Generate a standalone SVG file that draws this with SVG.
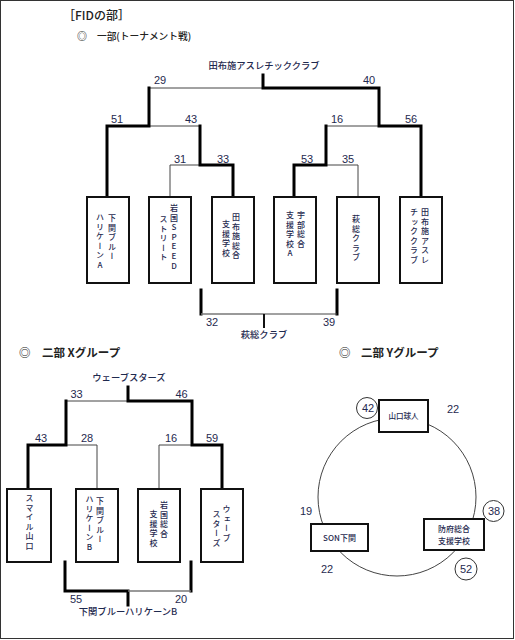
<svg xmlns="http://www.w3.org/2000/svg" width="515" height="640" viewBox="0 0 515 640">
<style>
.tk{stroke:#000;stroke-width:3;fill:none;stroke-linecap:square}
.tn{stroke:#444;stroke-width:1;fill:none}
.tg{stroke:#777;stroke-width:1.6;fill:none}
.box{fill:#fff;stroke:#111;stroke-width:2}
.num{font-family:"Liberation Sans",Arial,sans-serif;font-size:11px;fill:#1f2a4f;text-anchor:middle}
.jp{font-family:"Noto Sans CJK JP",sans-serif;font-weight:500;fill:#1f2a4f}
.lbl{font-family:"Noto Sans CJK JP",sans-serif;font-weight:500;font-size:9.3px;fill:#1f2a4f;text-anchor:middle}
.ttl{font-family:"Noto Sans CJK JP",sans-serif;font-weight:bold;fill:#222}
.ttm{font-family:"Noto Sans CJK JP",sans-serif;font-weight:500;fill:#222}
.v{font-family:"Noto Sans CJK JP",sans-serif;font-weight:500;font-size:8px;letter-spacing:1.6px;fill:#1f2a4f;writing-mode:vertical-rl;text-orientation:upright}
.sc{fill:#fff;stroke:#333;stroke-width:1}
</style>
<rect x="0.5" y="0.5" width="513" height="638" fill="#fff" stroke="#333" stroke-width="1"/>

<g id="titles">
<text class="ttm" x="63" y="20" font-size="12">［FIDの部］</text>
<text class="ttm" x="77" y="40" font-size="10">◎</text>
<text class="ttm" x="97" y="40" font-size="9.7">一部(トーナメント戦)</text>
<text class="ttl" x="19" y="357" font-size="11.5">◎</text>
<text class="ttl" x="42" y="357" font-size="11.5">二部  Xグループ</text>
<text class="ttl" x="339" y="357" font-size="11.5">◎</text>
<text class="ttl" x="361" y="357" font-size="11.5">二部  Yグループ</text>
</g>

<g id="connectors">
<!-- top tournament -->
<path class="tn" d="M149 88H263 M149 126H200 M326 126H379 M170 197V165H200 M326 165H358V197"/>
<path class="tk" d="M263 75V88H379V126H421V197 M149 88V126H107V197 M200 126V165H233V197 M326 126V165H294V197"/>
<path class="tk" d="M201 290V314 M337 290V314"/>
<path class="tg" d="M201 314H264"/>
<path class="tn" d="M264 314H337"/>
<path stroke="#111" stroke-width="2" d="M264 314V328"/>
<!-- X group -->
<path class="tn" d="M66 401H128 M66 445H97V489 M159 489V445H192"/>
<path class="tk" d="M128 387V401H192V445H222V489 M66 401V445H28V489"/>
<path class="tk" d="M65 562V591H128 M191 562V591 M128 591V605"/>
<path class="tg" d="M128 591H191"/>
<!-- Y group circle -->
<circle cx="397" cy="497" r="79" fill="none" stroke="#444" stroke-width="1"/>
</g>

<g id="top-labels">
<text class="lbl" x="264" y="69">田布施アスレチッククラブ</text>
<text class="num" x="160" y="84">29</text>
<text class="num" x="369" y="84">40</text>
<text class="num" x="117" y="123">51</text>
<text class="num" x="191" y="123">43</text>
<text class="num" x="337" y="123">16</text>
<text class="num" x="411" y="123">56</text>
<text class="num" x="180" y="163">31</text>
<text class="num" x="223" y="163">33</text>
<text class="num" x="307" y="163">53</text>
<text class="num" x="348" y="163">35</text>
<text class="num" x="212" y="326">32</text>
<text class="num" x="329" y="326">39</text>
<text class="lbl" x="264" y="338">萩総クラブ</text>
</g>

<g id="node-t1"><rect class="box" x="87" y="197" width="42" height="86"/>
<text class="v" x="112" y="214">下関ブルー</text><text class="v" x="100" y="213">ハリケーンA</text></g>
<g id="node-t2"><rect class="box" x="149" y="197" width="42" height="86"/>
<text class="v" x="174" y="204">岩国SPEED</text><text class="v" x="163.5" y="215">ストリート</text></g>
<g id="node-t3"><rect class="box" x="212" y="197" width="42" height="86"/>
<text class="v" x="236" y="213">田布施総合</text><text class="v" x="226" y="220">支援学校</text></g>
<g id="node-t4"><rect class="box" x="274" y="197" width="42" height="86"/>
<text class="v" x="301" y="211">宇部総合</text><text class="v" x="290" y="211">支援学校A</text></g>
<g id="node-t5"><rect class="box" x="337" y="197" width="42" height="86"/>
<text class="v" x="356" y="215">萩総クラブ</text></g>
<g id="node-t6"><rect class="box" x="400" y="197" width="42" height="86"/>
<text class="v" x="425" y="208">田布施アスレ</text><text class="v" x="414" y="208">チッククラブ</text></g>

<g id="x-labels">
<text class="lbl" x="129" y="381" font-size="8.5">ウェーブスターズ</text>
<text class="num" x="76.5" y="398">33</text>
<text class="num" x="181.5" y="398">46</text>
<text class="num" x="41" y="442">43</text>
<text class="num" x="87" y="442">28</text>
<text class="num" x="171" y="442">16</text>
<text class="num" x="212" y="442">59</text>
<text class="num" x="76" y="603">55</text>
<text class="num" x="181" y="603">20</text>
<text class="lbl" x="128" y="615" font-size="9">下関ブルーハリケーンB</text>
</g>

<g id="node-x1"><rect class="box" x="7" y="489" width="44" height="73"/>
<text class="v" x="29.5" y="494">スマイル山口</text></g>
<g id="node-x2"><rect class="box" x="76" y="489" width="42" height="73"/>
<text class="v" x="100" y="497">下関ブルー</text><text class="v" x="89.5" y="495">ハリケーンB</text></g>
<g id="node-x3"><rect class="box" x="138" y="489" width="42" height="73"/>
<text class="v" x="164" y="501">岩国総合</text><text class="v" x="153.5" y="510">支援学校</text></g>
<g id="node-x4"><rect class="box" x="201" y="489" width="42" height="73"/>
<text class="v" x="226.5" y="505">ウェーブ</text><text class="v" x="216.5" y="510">スターズ</text></g>

<g id="node-y1"><rect class="box" x="379" y="400" width="49" height="32"/>
<text class="jp" x="403.5" y="419" font-size="7.5" text-anchor="middle">山口球人</text></g>
<g id="node-y2"><rect class="box" x="424" y="519" width="60" height="31"/>
<text class="jp" x="454" y="532" font-size="8" text-anchor="middle">防府総合</text>
<text class="jp" x="454" y="544" font-size="8" text-anchor="middle">支援学校</text></g>
<g id="node-y3"><rect class="box" x="311" y="524" width="57" height="27"/>
<text class="jp" x="339.5" y="541" font-size="8" text-anchor="middle">SON下関</text></g>

<g id="y-scores">
<circle class="sc" cx="367" cy="408" r="10.5"/><text class="num" x="368" y="412">42</text>
<circle class="sc" cx="493.5" cy="511" r="10.5"/><text class="num" x="494" y="515">38</text>
<circle class="sc" cx="466" cy="569" r="11"/><text class="num" x="466" y="573">52</text>
<text class="num" x="453" y="413">22</text>
<text class="num" x="306" y="515">19</text>
<text class="num" x="327" y="573">22</text>
</g>
</svg>
